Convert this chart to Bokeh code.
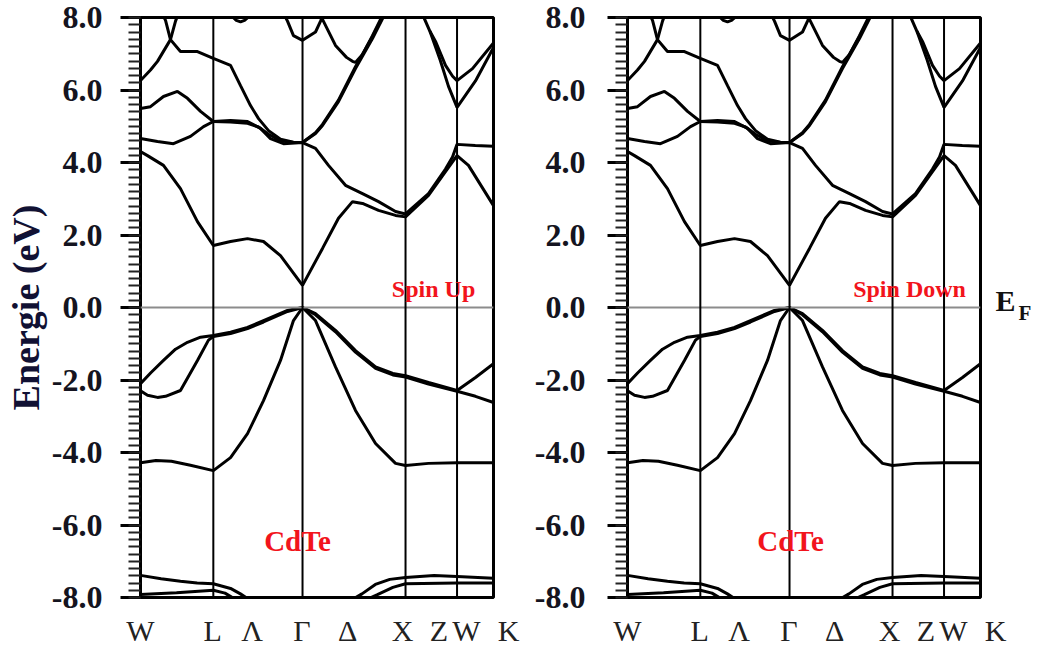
import numpy as np
from bokeh.plotting import figure
from bokeh.layouts import row
from bokeh.models import Range1d, FixedTicker, Label, Span, LinearAxis
from bokeh.embed import file_html
from bokeh.resources import INLINE

# ---------------- data ----------------
# high-symmetry points along path W-L-Γ-X-W-K (units of 2π/a)
k_lines = [0.707, 1.573, 2.573, 3.073]
xlab_text = ["W", "L", "Λ", "Γ", "Δ", "X", "Z", "W", "\u00a0\u00a0\u00a0\u00a0K"]
xlab_k = [0.0, 0.70, 1.083, 1.568, 2.01, 2.544, 2.898, 3.165, 3.427]
ytick_vals = [-8, -6, -4, -2, 0, 2, 4, 6, 8]
ytick_text = ["-8.0", "-6.0", "-4.0", "-2.0", "0.0", "2.0", "4.0", "6.0", "8.0"]
fermi_label = "E"
fermi_sub = "F"

# semicore bands near -8 eV
d1a_k = [0.0, 0.2, 0.388, 0.55, 0.707, 0.874, 0.97, 1.05]
d1a_E = [-7.39, -7.48, -7.55, -7.6, -7.62, -7.75, -7.9, -8.05]
d1b_k = [2.06, 2.15, 2.28, 2.42, 2.573, 2.85, 3.073, 3.427]
d1b_E = [-8.05, -7.9, -7.64, -7.5, -7.45, -7.39, -7.42, -7.47]
d2a_k = [0.0, 0.35, 0.707, 0.82, 0.92]
d2a_E = [-7.92, -7.87, -7.8, -7.88, -8.05]
d2b_k = [2.2, 2.3, 2.45, 2.573, 3.073, 3.427]
d2b_E = [-8.05, -7.92, -7.72, -7.62, -7.6, -7.6]

# valence bands
vb1_k = [0.0, 0.15, 0.3, 0.485, 0.707, 0.874, 1.039, 1.194, 1.359, 1.485, 1.573,
         1.699, 1.893, 2.087, 2.282, 2.476, 2.573, 2.796, 3.073, 3.427]
vb1_E = [-4.28, -4.22, -4.24, -4.35, -4.5, -4.14, -3.48, -2.57, -1.46, -0.36, 0.0,
         -0.36, -1.64, -2.84, -3.75, -4.3, -4.36, -4.3, -4.28, -4.28]
vb2_k = [0.0, 0.068, 0.165, 0.243, 0.388, 0.553, 0.66, 0.707, 0.874, 1.039, 1.194,
         1.427, 1.573, 1.699, 1.893, 2.087, 2.282, 2.45, 2.573, 2.796, 3.073, 3.252, 3.427]
vb2_E = [-2.3, -2.42, -2.48, -2.45, -2.29, -1.46, -0.9, -0.8, -0.72, -0.58, -0.4,
         -0.11, 0.0, -0.2, -0.67, -1.23, -1.68, -1.86, -1.92, -2.11, -2.31, -2.45, -2.62]
vb3_k = [0.0, 0.1, 0.223, 0.34, 0.456, 0.583, 0.707, 0.874, 1.039, 1.194, 1.427,
         1.573, 1.699, 1.893, 2.087, 2.282, 2.45, 2.573, 2.796, 3.073, 3.252, 3.427]
vb3_E = [-2.1, -1.8, -1.46, -1.15, -0.96, -0.82, -0.77, -0.68, -0.55, -0.36, -0.08,
         0.0, -0.17, -0.63, -1.19, -1.64, -1.82, -1.88, -2.07, -2.29, -1.93, -1.55]

# conduction bands
cb1_k = [0.0, 0.068, 0.223, 0.388, 0.553, 0.707, 0.874, 1.039, 1.194, 1.359, 1.485, 1.573,
         1.767, 1.922, 2.058, 2.155, 2.311, 2.476, 2.573, 2.796, 2.961, 3.073, 3.184, 3.32, 3.427]
cb1_E = [4.3, 4.19, 3.92, 3.28, 2.37, 1.71, 1.82, 1.9, 1.82, 1.43, 0.95, 0.61,
         1.63, 2.46, 2.92, 2.87, 2.68, 2.54, 2.5, 3.09, 3.75, 4.19, 3.92, 3.3, 2.81]
cb2_k = [0.0, 0.165, 0.32, 0.485, 0.612, 0.707, 0.874, 1.039, 1.165, 1.262, 1.388, 1.573,
         1.699, 1.825, 1.99, 2.155, 2.311, 2.476, 2.573, 2.796, 2.961, 3.029, 3.073, 3.25, 3.427]
cb2_E = [4.66, 4.58, 4.52, 4.72, 4.99, 5.13, 5.16, 5.13, 4.94, 4.66, 4.52, 4.55,
         4.39, 3.92, 3.37, 3.14, 2.92, 2.65, 2.58, 3.14, 3.82, 4.15, 4.5, 4.47, 4.45]
cb3_k = [0.0, 0.097, 0.223, 0.359, 0.456, 0.583, 0.707, 0.874, 1.039, 1.146, 1.243,
         1.359, 1.485, 1.573, 1.699, 1.767, 1.922, 2.087, 2.252, 2.35, 2.39]
cb3_E = [5.49, 5.54, 5.82, 5.96, 5.77, 5.41, 5.13, 5.12, 5.08, 4.98, 4.78,
         4.6, 4.55, 4.55, 4.8, 5.02, 5.68, 6.59, 7.42, 7.97, 8.1]
cb4_k = [0.22, 0.243, 0.291, 0.388, 0.553, 0.707, 0.874, 0.971, 1.068, 1.146, 1.243,
         1.359, 1.485, 1.573, 1.699, 1.767, 1.922, 2.087, 2.252, 2.35, 2.39]
cb4_E = [8.05, 7.92, 7.39, 7.06, 7.06, 6.87, 6.68, 6.12, 5.57, 5.21, 4.88,
         4.64, 4.56, 4.55, 4.82, 5.05, 5.72, 6.64, 7.47, 8.02, 8.12]
cb5_k = [0.0, 0.097, 0.165, 0.291, 0.34, 0.36]
cb5_E = [6.26, 6.55, 6.79, 7.39, 7.9, 8.05]
cb6_k = [1.757, 1.767, 1.893, 2.0, 2.058, 2.087, 2.155, 2.252, 2.33, 2.36]
cb6_E = [8.05, 7.95, 7.23, 6.9, 6.79, 6.76, 6.98, 7.5, 7.95, 8.05]
cbg_k = [1.40, 1.427, 1.485, 1.573, 1.699, 1.748, 1.77]
cbg_E = [8.05, 7.9, 7.5, 7.37, 7.6, 7.9, 8.05]
arc_k = [0.893, 0.93, 0.971, 1.01, 1.049]
arc_E = [8.02, 7.92, 7.88, 7.92, 8.02]
u1_k = [2.748, 2.81, 2.864, 2.961, 3.03, 3.073, 3.223, 3.427]
u1_E = [8.02, 7.62, 7.34, 6.68, 6.38, 6.26, 6.59, 7.3]
u2_k = [2.81, 2.91, 2.99, 3.073, 3.252, 3.427]
u2_E = [7.62, 6.82, 6.1, 5.52, 6.25, 7.17]

bands = [(d1a_k, d1a_E), (d1b_k, d1b_E), (d2a_k, d2a_E), (d2b_k, d2b_E),
         (vb1_k, vb1_E), (vb2_k, vb2_E), (vb3_k, vb3_E),
         (cb1_k, cb1_E), (cb2_k, cb2_E), (cb3_k, cb3_E), (cb4_k, cb4_E),
         (cb5_k, cb5_E), (cb6_k, cb6_E), (cbg_k, cbg_E), (arc_k, arc_E),
         (u1_k, u1_E), (u2_k, u2_E)]

SERIF = "Liberation Serif"
RED = "#f2141c"


def make_panel(border_left, border_right, spin_text, spin_k, cdte_k, ylabel, ylab_standoff):
    p = figure(frame_width=353, frame_height=580,
               min_border_left=border_left, min_border_right=border_right,
               min_border_top=17, min_border_bottom=56,
               x_range=Range1d(0, 3.427), y_range=Range1d(-8, 8),
               output_backend="svg", toolbar_location=None,
               background_fill_color="white", border_fill_color="white")
    p.grid.visible = False
    p.outline_line_color = "black"
    p.outline_line_width = 3
    p.outline_line_alpha = 1

    xax = p.xaxis[0]
    xax.ticker = FixedTicker(ticks=xlab_k, minor_ticks=[])
    xax.major_label_overrides = {v: t for v, t in zip(xlab_k, xlab_text)}
    xax.axis_line_color = None
    xax.major_tick_line_color = None
    xax.minor_tick_line_color = None
    xax.major_tick_out = 0
    xax.major_tick_in = 0
    xax.major_label_standoff = 16
    xax.major_label_text_font = SERIF
    xax.major_label_text_font_size = "30px"
    xax.major_label_text_color = "#222222"

    yax = p.yaxis[0]
    yax.ticker = FixedTicker(ticks=ytick_vals,
                             minor_ticks=list(np.round(np.arange(-8, 8.001, 0.2), 2)))
    yax.major_label_overrides = {v: t for v, t in zip(ytick_vals, ytick_text)}
    yax.axis_line_width = 3
    yax.axis_line_color = "black"
    yax.major_tick_out = 20
    yax.major_tick_in = 0
    yax.minor_tick_out = 12
    yax.minor_tick_in = 0
    yax.major_tick_line_width = 3
    yax.minor_tick_line_width = 2
    yax.minor_tick_line_color = "#222222"
    yax.major_label_standoff = ylab_standoff
    yax.major_label_text_font = SERIF
    yax.major_label_text_font_style = "bold"
    yax.major_label_text_font_size = "32px"
    yax.major_label_text_color = "#141420"
    if ylabel:
        yax.axis_label = "Energie (eV)"
        yax.axis_label_text_font = SERIF
        yax.axis_label_text_font_style = "bold"
        yax.axis_label_text_font_size = "38px"
        yax.axis_label_text_color = "#111133"
        yax.axis_label_standoff = 2

    p.add_layout(Span(location=0, dimension="width", line_color="#8c8c8c", line_width=2))
    for kl in k_lines:
        p.add_layout(Span(location=kl, dimension="height", line_color="black", line_width=2))

    for kk, ee in bands:
        p.line(kk, ee, line_color="black", line_width=3)

    p.add_layout(Label(x=spin_k, y=0.5, text=spin_text, text_font=SERIF,
                       text_font_style="bold", text_font_size="24px", text_color=RED,
                       text_align="center", text_baseline="middle"))
    p.add_layout(Label(x=cdte_k, y=-6.43, text="CdTe", text_font=SERIF,
                       text_font_style="bold", text_font_size="29px", text_color=RED,
                       text_align="center", text_baseline="middle"))
    return p


p1 = make_panel(140, 30, "Spin Up", 2.845, 1.524, True, 18)
p2 = make_panel(104, 57, "Spin Down", 2.738, 1.583, False, 22)

# Fermi-level mark E_F drawn as two tick-label axes on the right of the second panel
for txt, yv, size, standoff in [(fermi_label, 0.2, "30px", 15), (fermi_sub, -0.14, "21px", 0)]:
    ax = LinearAxis(ticker=FixedTicker(ticks=[yv], minor_ticks=[]),
                    major_label_overrides={yv: txt})
    ax.axis_line_color = None
    ax.major_tick_line_color = None
    ax.minor_tick_line_color = None
    ax.major_tick_out = 0
    ax.major_tick_in = 0
    ax.major_label_standoff = standoff
    ax.major_label_text_font = SERIF
    ax.major_label_text_font_style = "bold"
    ax.major_label_text_font_size = size
    ax.major_label_text_color = "#111111"
    p2.add_layout(ax, "right")

layout = row(p1, p2)

open("out.html", "w").write(file_html(layout, INLINE))
